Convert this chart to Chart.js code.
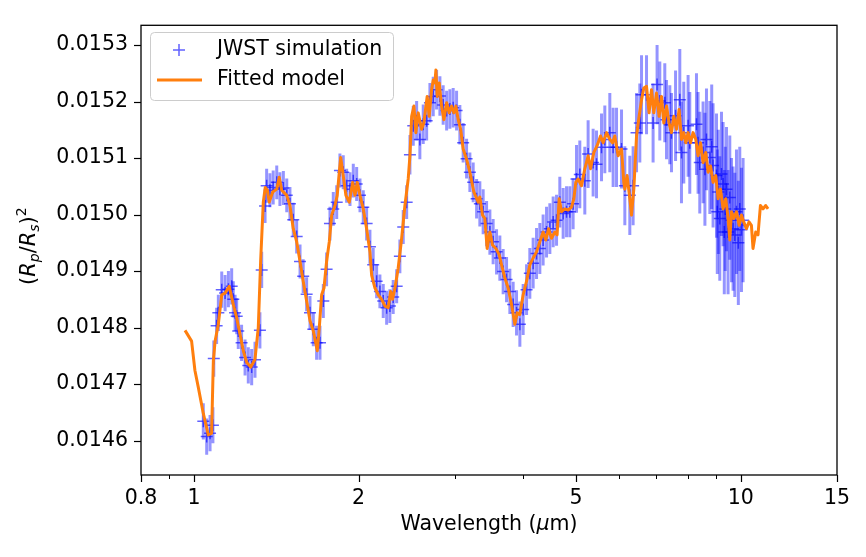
<!DOCTYPE html>
<html><head><meta charset="utf-8">
<script src="https://cdn.jsdelivr.net/npm/chart.js@4/dist/chart.umd.min.js"></script>
<style>html,body{margin:0;padding:0;background:#fff;}canvas{display:block;}</style>
</head><body>
<canvas id="c" width="866" height="557"></canvas>
<script>
const xMajorTicks = [0.8, 1, 2, 5, 10, 15];
const xMinorTicks = [0.9, 3, 4, 6, 7, 8, 9];
const yTicks = [0.0146, 0.0147, 0.0148, 0.0149, 0.0150, 0.0151, 0.0152, 0.0153];
const xRange = [0.8, 15];
const yRange = [0.014539, 0.015335];
const seriesLabels = ['JWST simulation', 'Fitted model'];
const axisTitleX = ['Wavelength (', '\u03bc', 'm)'];

// Fitted model: [wavelength (um), (Rp/Rs)^2]
const modelCurve = [
[0.963,0.014795],[0.990,0.014776],[1.004,0.014724],[1.018,0.014695],[1.040,0.014648],[1.062,0.014610],[1.077,0.014613],[1.085,0.014741],[1.093,0.014776],[1.108,0.014806],
[1.124,0.014858],[1.140,0.014861],[1.160,0.014873],[1.180,0.014841],[1.197,0.014817],[1.214,0.014788],[1.231,0.014759],[1.249,0.014738],[1.270,0.014730],[1.293,0.014744],
[1.311,0.014800],[1.324,0.014917],[1.339,0.015022],[1.350,0.015048],[1.362,0.015043],[1.373,0.015022],[1.393,0.015040],[1.417,0.015045],[1.432,0.015066],[1.447,0.015043],
[1.478,0.015034],[1.498,0.015016],[1.519,0.014975],[1.541,0.014952],[1.563,0.014917],[1.584,0.014882],[1.607,0.014847],[1.630,0.014812],[1.653,0.014794],[1.681,0.014759],
[1.695,0.014800],[1.712,0.014858],[1.729,0.014870],[1.748,0.014917],[1.768,0.014952],[1.786,0.014999],[1.811,0.015016],[1.828,0.015034],[1.844,0.015075],[1.855,0.015101],
[1.875,0.015069],[1.896,0.015034],[1.923,0.015022],[1.951,0.015057],[1.970,0.015034],[1.989,0.015057],[2.012,0.015034],[2.040,0.015010],[2.069,0.014975],[2.098,0.014934],
[2.113,0.014893],[2.143,0.014870],[2.173,0.014858],[2.204,0.014850],[2.235,0.014838],[2.266,0.014835],[2.289,0.014864],[2.308,0.014850],[2.331,0.014870],[2.363,0.014905],
[2.398,0.014958],[2.431,0.015016],[2.465,0.015063],[2.483,0.015104],[2.501,0.015174],[2.525,0.015192],[2.546,0.015145],[2.571,0.015180],[2.608,0.015151],[2.633,0.015162],
[2.656,0.015192],[2.670,0.015209],[2.693,0.015174],[2.720,0.015221],[2.739,0.015238],[2.758,0.015233],[2.770,0.015256],[2.785,0.015209],[2.809,0.015233],[2.837,0.015192],
[2.865,0.015168],[2.898,0.015198],[2.930,0.015180],[2.959,0.015192],[2.988,0.015180],[3.013,0.015192],[3.043,0.015168],[3.074,0.015151],[3.107,0.015116],[3.152,0.015098],
[3.196,0.015075],[3.250,0.015040],[3.310,0.015022],[3.333,0.015031],[3.371,0.014999],[3.404,0.014993],[3.437,0.014940],[3.477,0.014969],[3.516,0.014946],[3.566,0.014940],
[3.616,0.014929],[3.652,0.014911],[3.703,0.014888],[3.755,0.014870],[3.809,0.014841],[3.863,0.014806],[3.900,0.014826],[3.945,0.014823],[4.000,0.014858],[4.058,0.014882],
[4.114,0.014911],[4.172,0.014923],[4.232,0.014934],[4.291,0.014952],[4.351,0.014969],[4.401,0.014955],[4.452,0.014975],[4.508,0.014958],[4.571,0.014969],[4.615,0.014964],
[4.655,0.015028],[4.702,0.015005],[4.768,0.015010],[4.834,0.015008],[4.904,0.015013],[4.952,0.015028],[4.993,0.015057],[5.042,0.015063],[5.115,0.015051],[5.186,0.015081],
[5.259,0.015104],[5.313,0.015081],[5.387,0.015110],[5.462,0.015122],[5.541,0.015139],[5.602,0.015127],[5.683,0.015145],[5.762,0.015133],[5.828,0.015127],[5.885,0.015139],
[5.967,0.015104],[6.053,0.015116],[6.112,0.015057],[6.138,0.015045],[6.197,0.015069],[6.268,0.015028],[6.313,0.014999],[6.375,0.015045],[6.448,0.015139],[6.519,0.015174],
[6.585,0.015203],[6.649,0.015224],[6.725,0.015227],[6.799,0.015180],[6.868,0.015221],[6.935,0.015180],[7.014,0.015215],[7.091,0.015174],[7.163,0.015209],[7.233,0.015162],
[7.316,0.015192],[7.396,0.015162],[7.471,0.015145],[7.544,0.015174],[7.630,0.015151],[7.714,0.015186],[7.792,0.015133],[7.868,0.015145],[7.935,0.015127],[8.012,0.015145],
[8.094,0.015127],[8.182,0.015145],[8.276,0.015133],[8.356,0.015104],[8.442,0.015127],[8.534,0.015092],[8.632,0.015110],[8.716,0.015075],[8.805,0.015086],[8.901,0.015057],
[9.003,0.015069],[9.091,0.015028],[9.183,0.015045],[9.284,0.015010],[9.390,0.015028],[9.481,0.014993],[9.549,0.014955],[9.618,0.015005],[9.712,0.014993],[9.823,0.015005],
[9.931,0.014981],[10.032,0.014999],[10.129,0.014987],[10.243,0.014975],[10.356,0.014987],[10.461,0.014981],[10.531,0.014940],[10.652,0.014969],[10.755,0.014964],[10.865,0.015016],
[10.985,0.015010],[11.109,0.015016],[11.218,0.015010]
];

// JWST simulation: [wavelength (um), (Rp/Rs)^2, 1-sigma error]
const jwstPoints = [
[1.040,0.014634,0.000032],[1.055,0.014607,0.000032],[1.070,0.014613,0.000032],[1.083,0.014627,0.000032],[1.087,0.014745,0.000032],
[1.100,0.014803,0.000032],[1.108,0.014826,0.000032],[1.124,0.014867,0.000032],[1.140,0.014861,0.000032],[1.156,0.014868,0.000032],
[1.172,0.014873,0.000032],[1.180,0.014850,0.000032],[1.189,0.014826,0.000032],[1.197,0.014820,0.000032],[1.205,0.014794,0.000032],
[1.222,0.014773,0.000032],[1.240,0.014747,0.000032],[1.257,0.014733,0.000032],[1.275,0.014730,0.000032],[1.293,0.014743,0.000032],
[1.320,0.014795,0.000032],[1.330,0.014902,0.000032],[1.349,0.015015,0.00003],[1.358,0.015051,0.00003],[1.377,0.015043,0.00003],
[1.396,0.015048,0.00003],[1.417,0.015057,0.00003],[1.436,0.015045,0.00003],[1.457,0.015047,0.00003],[1.478,0.015034,0.00003],
[1.498,0.015019,0.00003],[1.519,0.014991,0.00003],[1.541,0.014961,0.00003],[1.563,0.014917,0.00003],[1.584,0.014891,0.00003],
[1.607,0.014859,0.00003],[1.630,0.014826,0.00003],[1.653,0.014797,0.00003],[1.676,0.014773,0.00003],[1.700,0.014773,0.00003],
[1.724,0.014847,0.00003],[1.748,0.014903,0.00003],[1.773,0.014984,0.00003],[1.798,0.015010,0.00003],[1.824,0.015022,0.00003],
[1.849,0.015078,0.00003],[1.875,0.015075,0.00003],[1.902,0.015051,0.00003],[1.929,0.015045,0.00003],[1.956,0.015060,0.00003],
[1.984,0.015054,0.00003],[2.012,0.015034,0.00003],[2.040,0.015013,0.00003],[2.069,0.014984,0.00003],[2.098,0.014943,0.00003],
[2.127,0.014911,0.00003],[2.158,0.014882,0.00003],[2.188,0.014864,0.00003],[2.219,0.014847,0.00003],[2.251,0.014835,0.00003],
[2.282,0.014838,0.00003],[2.314,0.014854,0.00003],[2.348,0.014873,0.00003],[2.380,0.014926,0.00003],[2.414,0.014978,0.00003],
[2.449,0.015022,0.00003],[2.483,0.015106,0.000035],[2.518,0.015157,0.000035],[2.554,0.015166,0.000035],[2.589,0.015133,0.000035],
[2.626,0.015160,0.000035],[2.664,0.015166,0.000035],[2.701,0.015198,0.000035],[2.739,0.015209,0.000035],[2.778,0.015221,0.000035],
[2.817,0.015210,0.000035],[2.856,0.015194,0.000035],[2.898,0.015184,0.000035],[2.938,0.015187,0.000035],[2.979,0.015189,0.000035],
[3.022,0.015184,0.000035],[3.064,0.015159,0.000035],[3.107,0.015127,0.000035],[3.152,0.015099,0.000035],[3.196,0.015075,0.000035],
[3.241,0.015057,0.000035],[3.288,0.015028,0.000035],[3.333,0.015019,0.00004],[3.380,0.015005,0.00004],[3.429,0.014984,0.00004],
[3.477,0.014969,0.00004],[3.525,0.014952,0.00004],[3.576,0.014934,0.00004],[3.626,0.014923,0.00004],[3.677,0.014899,0.00004],
[3.730,0.014885,0.00004],[3.782,0.014864,0.00004],[3.835,0.014841,0.00004],[3.890,0.014826,0.00004],[3.945,0.014806,0.00004],
[4.000,0.014832,0.000045],[4.058,0.014867,0.000045],[4.114,0.014896,0.000045],[4.172,0.014914,0.000045],[4.232,0.014931,0.000045],
[4.291,0.014940,0.000045],[4.351,0.014955,0.000045],[4.414,0.014969,0.000045],[4.476,0.014975,0.000045],[4.539,0.014987,0.000045],
[4.604,0.014990,0.000045],[4.668,0.015022,0.000045],[4.734,0.015002,0.000045],[4.802,0.015005,0.000045],[4.869,0.015005,0.000045],
[4.937,0.015019,0.000045],[5.008,0.015063,0.00006],[5.078,0.015071,0.00006],[5.186,0.015060,0.00006],[5.259,0.015107,0.00006],
[5.371,0.015092,0.00006],[5.448,0.015089,0.00006],[5.564,0.015119,0.00006],[5.642,0.015133,0.00006],[5.762,0.015145,0.00007],
[5.843,0.015119,0.00007],[5.927,0.015119,0.00007],[6.053,0.015116,0.00007],[6.138,0.015051,0.00007],[6.268,0.015034,0.00007],
[6.356,0.015051,0.00007],[6.448,0.015145,0.00007],[6.538,0.015162,0.00007],[6.585,0.015212,0.00007],[6.725,0.015212,0.00007],
[6.914,0.015162,0.00007],[7.031,0.015230,0.00007],[7.112,0.015201,0.00007],[7.263,0.015198,0.00007],[7.316,0.015168,0.00007],
[7.418,0.015159,0.00007],[7.471,0.015145,0.00007],[7.600,0.015175,0.00008],[7.737,0.015203,0.00009],[7.792,0.015110,0.00009],
[7.868,0.015145,0.00009],[8.012,0.015157,0.00009],[8.069,0.015127,0.00009],[8.300,0.015160,0.00009],[8.356,0.015127,0.00009],
[8.416,0.015092,0.00009],[8.534,0.015110,0.00009],[8.600,0.015080,0.0001],[8.657,0.015133,0.00009],[8.780,0.015101,0.0001],
[8.850,0.015120,0.00011],[8.901,0.015087,0.00011],[9.030,0.015069,0.00011],[9.060,0.015005,0.00011],[9.100,0.015040,0.00011],
[9.156,0.014993,0.00011],[9.222,0.015072,0.00011],[9.284,0.015054,0.00011],[9.331,0.014969,0.00011],[9.370,0.015010,0.00011],
[9.418,0.015045,0.00011],[9.481,0.014969,0.00011],[9.550,0.015030,0.00011],[9.620,0.014990,0.00011],[9.683,0.014975,0.00011],
[9.753,0.014964,0.00011],[9.823,0.015005,0.00011],[9.900,0.014950,0.00011],[9.960,0.015010,0.00011],[10.032,0.014973,0.00011],
[10.100,0.014990,0.00011]
];

const FONT = 'DejaVu Sans';
const FS = 20.5;
const ORANGE = '#ff7f0e';
const MARK = 'rgba(0,0,255,0.62)';
const BAR = 'rgba(0,0,255,0.42)';

const decor = {
  id: 'decor',
  beforeDatasetsDraw(chart) {
    const {ctx, chartArea: a, scales: {x, y}} = chart;
    ctx.save();
    ctx.beginPath(); ctx.rect(a.left, a.top, a.right - a.left, a.bottom - a.top); ctx.clip();
    ctx.strokeStyle = BAR; ctx.lineWidth = 3; ctx.lineCap = 'butt';
    jwstPoints.forEach(([w, d, e]) => {
      const px = x.getPixelForValue(w);
      ctx.beginPath();
      ctx.moveTo(px, y.getPixelForValue(d - e));
      ctx.lineTo(px, y.getPixelForValue(d + e));
      ctx.stroke();
    });
    ctx.restore();
  },
  afterDraw(chart) {
    const {ctx, chartArea: a, scales: {x, y}} = chart;
    ctx.save();
    ctx.strokeStyle = '#000'; ctx.lineWidth = 1.3;
    ctx.strokeRect(a.left, a.top, a.right - a.left, a.bottom - a.top);
    ctx.lineWidth = 1.2;
    yTicks.forEach(v => { const p = Math.round(y.getPixelForValue(v)) + 0.5; ctx.beginPath(); ctx.moveTo(a.left - 7, p); ctx.lineTo(a.left, p); ctx.stroke(); });
    xMajorTicks.forEach(v => { const p = Math.round(x.getPixelForValue(v)) + 0.5; ctx.beginPath(); ctx.moveTo(p, a.bottom); ctx.lineTo(p, a.bottom + 7); ctx.stroke(); });
    ctx.lineWidth = 1;
    xMinorTicks.forEach(v => { const p = Math.round(x.getPixelForValue(v)) + 0.5; ctx.beginPath(); ctx.moveTo(p, a.bottom); ctx.lineTo(p, a.bottom + 4); ctx.stroke(); });

    ctx.fillStyle = '#000'; ctx.textBaseline = 'middle';
    const fN = `${FS}px "${FONT}"`, fI = `italic ${FS}px "${FONT}"`;
    const xp = [[axisTitleX[0], fN], [axisTitleX[1], fI], [axisTitleX[2], fN]];
    let tw = 0; xp.forEach(([t, f]) => { ctx.font = f; tw += ctx.measureText(t).width; });
    let cx = (a.left + a.right) / 2 - tw / 2;
    xp.forEach(([t, f]) => { ctx.font = f; ctx.textAlign = 'left'; ctx.fillText(t, cx, 525); cx += ctx.measureText(t).width; });

    ctx.save();
    ctx.translate(28, (a.top + a.bottom) / 2 - 4);
    ctx.rotate(-Math.PI / 2);
    const parts = [['(',0,0,1],['R',1,0,1],['p',1,0.2,0.7],['/',0,0,1],['R',1,0,1],['s',1,0.2,0.7],[')',0,0,1],['2',0,-0.45,0.7]];
    const fontFor = (it, sc) => `${it ? 'italic ' : ''}${Math.round(FS * sc)}px "${FONT}"`;
    let yw = 0; parts.forEach(([t, it, off, sc]) => { ctx.font = fontFor(it, sc); yw += ctx.measureText(t).width; });
    let yx = -yw / 2;
    ctx.textBaseline = 'alphabetic'; ctx.textAlign = 'left';
    parts.forEach(([t, it, off, sc]) => { ctx.font = fontFor(it, sc); ctx.fillText(t, yx, FS * 0.36 + off * FS); yx += ctx.measureText(t).width; });
    ctx.restore();

    const lx = 150.5, ly = 32.5, lw = 243, lh = 68, r = 4;
    ctx.beginPath();
    ctx.moveTo(lx + r, ly); ctx.lineTo(lx + lw - r, ly); ctx.quadraticCurveTo(lx + lw, ly, lx + lw, ly + r);
    ctx.lineTo(lx + lw, ly + lh - r); ctx.quadraticCurveTo(lx + lw, ly + lh, lx + lw - r, ly + lh);
    ctx.lineTo(lx + r, ly + lh); ctx.quadraticCurveTo(lx, ly + lh, lx, ly + lh - r);
    ctx.lineTo(lx, ly + r); ctx.quadraticCurveTo(lx, ly, lx + r, ly); ctx.closePath();
    ctx.fillStyle = 'rgba(255,255,255,0.8)'; ctx.fill();
    ctx.strokeStyle = '#cccccc'; ctx.lineWidth = 1; ctx.stroke();
    const ds = chart.data.datasets;
    ctx.strokeStyle = ds[1].pointBorderColor; ctx.lineWidth = 1.5;
    ctx.beginPath(); ctx.moveTo(173, 50); ctx.lineTo(185, 50); ctx.moveTo(179, 44); ctx.lineTo(179, 56); ctx.stroke();
    ctx.strokeStyle = ds[0].borderColor; ctx.lineWidth = 3;
    ctx.beginPath(); ctx.moveTo(157, 80); ctx.lineTo(202, 80); ctx.stroke();
    ctx.fillStyle = '#000'; ctx.font = fN; ctx.textBaseline = 'middle'; ctx.textAlign = 'left';
    ctx.fillText(ds[1].label, 217, 50);
    ctx.fillText(ds[0].label, 217, 80);
    ctx.restore();
  }
};

new Chart(document.getElementById('c'), {
  type: 'scatter',
  data: {
    datasets: [
      {
        label: seriesLabels[1],
        data: modelCurve.map(([w, d]) => ({x: w, y: d})),
        showLine: true,
        borderColor: ORANGE,
        borderWidth: 3,
        borderJoinStyle: 'round',
        pointRadius: 0,
        order: 0
      },
      {
        label: seriesLabels[0],
        data: jwstPoints.map(([w, d]) => ({x: w, y: d})),
        showLine: false,
        pointStyle: 'cross',
        pointRadius: 6,
        pointBorderColor: MARK,
        pointBorderWidth: 1.5,
        borderColor: MARK,
        order: 1
      }
    ]
  },
  options: {
    responsive: false,
    animation: false,
    devicePixelRatio: 1,
    layout: {padding: {left: 0, right: 29, top: 22, bottom: 0}},
    plugins: {legend: {display: false}, tooltip: {enabled: false}},
    scales: {
      x: {
        type: 'logarithmic', min: xRange[0], max: xRange[1],
        afterBuildTicks: s => { s.ticks = xMajorTicks.map(v => ({value: v})); },
        afterFit: s => { s.height = 82; },
        grid: {display: false, drawTicks: false},
        border: {display: false},
        ticks: {font: {family: FONT, size: FS}, color: '#000', padding: 11, maxRotation: 0, autoSkip: false, callback: v => String(v)}
      },
      y: {
        type: 'linear', min: yRange[0], max: yRange[1],
        afterBuildTicks: s => { s.ticks = yTicks.map(v => ({value: v})); },
        afterFit: s => { s.width = 141; },
        grid: {display: false, drawTicks: false},
        border: {display: false},
        ticks: {font: {family: FONT, size: FS}, color: '#000', padding: 13, callback: v => v.toFixed(4)}
      }
    }
  },
  plugins: [decor]
});
</script>
</body></html>
